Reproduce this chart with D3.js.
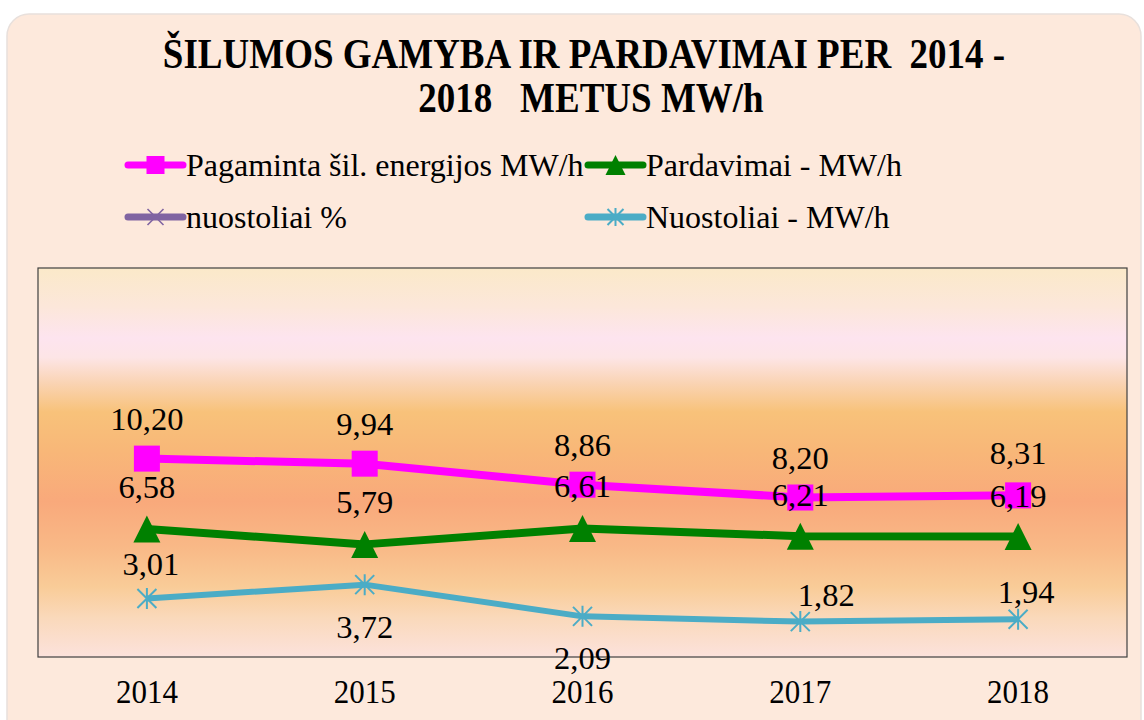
<!DOCTYPE html>
<html>
<head>
<meta charset="utf-8">
<script src="https://cdn.jsdelivr.net/npm/d3@7/dist/d3.min.js"></script>
<style>
  html, body { margin: 0; padding: 0; background: #ffffff; }
  svg { display: block; }
  text { font-family: "Liberation Serif", "Times New Roman", serif; fill: #000; white-space: pre; }
</style>
</head>
<body>
<svg id="chart" width="1144" height="720"></svg>
<script>
// ---- data ----
const categories = ["2014", "2015", "2016", "2017", "2018"];
const pagaminta  = [10.20, 9.94, 8.86, 8.20, 8.31];
const pardavimai = [6.58, 5.79, 6.61, 6.21, 6.19];
const nuostoliai = [3.01, 3.72, 2.09, 1.82, 1.94];
const seriesNames = ["Pagaminta šil. energijos MW/h", "Pardavimai - MW/h", "nuostoliai %", "Nuostoliai - MW/h"];
const yDomain = [0, 20];
const titleLines = ["ŠILUMOS GAMYBA IR PARDAVIMAI PER  2014 -", "2018   METUS MW/h"];

// ---- styles / placement (not data) ----
const FONT = "'Liberation Serif', 'Times New Roman', serif";
const fmt = v => d3.format(".2f")(v).replace(".", ",");
const styles = [
  { color: "#ff00ff", width: 8, marker: "square" },
  { color: "#008000", width: 8, marker: "triangle" },
  { color: "#8064a2", width: 6, marker: "x" },
  { color: "#4bacc6", width: 6, marker: "star" }
];
const labelOffsets = {
  pag:  [[0,-40],[0,-40],[0,-40],[0,-40],[0,-42]],
  par:  [[0,-42],[0,-42],[0,-42],[0,-41],[0,-41]],
  nuo:  [[4,-34],[0,42],[0,42],[26,-27],[8,-27]]
};

const svg = d3.select("#chart");
const defs = svg.append("defs");
const grad = defs.append("linearGradient").attr("id", "plotGrad")
  .attr("x1", 0).attr("y1", 0).attr("x2", 0).attr("y2", 1);
[["0%","#fbe9c9"],["10%","#fce7da"],["18%","#fde4ef"],["23%","#fde5e6"],["29%","#fad5b8"],
 ["37%","#f8c27a"],["47%","#f8b778"],["60%","#f9a97b"],["72%","#f9b987"],["82%","#f9cc98"],
 ["90%","#fad9bb"],["100%","#fce2dc"]].forEach(s =>
  grad.append("stop").attr("offset", s[0]).attr("stop-color", s[1]));

// card
svg.append("rect").attr("x", 7).attr("y", 14).attr("width", 1134).attr("height", 740)
  .attr("rx", 22).attr("fill", "#fde9dc").attr("stroke", "#e8e0dc").attr("stroke-width", 1.5);

// title (slightly tall glyphs as in the reference)
titleLines.forEach((t, i) => {
  svg.append("text")
    .attr("transform", `translate(${i === 0 ? 584 : 591},${i === 0 ? 68 : 112}) scale(1,1.13)`)
    .attr("text-anchor", "middle")
    .style("font-family", FONT).style("font-size", "37px").style("font-weight", "bold").text(t);
});

// plot area
const plot = { left: 38, right: 1127, top: 268, bottom: 657 };
svg.append("rect").attr("x", plot.left).attr("y", plot.top)
  .attr("width", plot.right - plot.left).attr("height", plot.bottom - plot.top)
  .attr("fill", "url(#plotGrad)").attr("stroke", "#404040").attr("stroke-width", 1.2);

const x = d3.scaleBand().domain(categories).range([plot.left, plot.right]);
const y = d3.scaleLinear().domain(yDomain).range([plot.bottom, plot.top]);
const cx = c => x(c) + x.bandwidth() / 2;

// x axis labels
const xAxis = d3.axisBottom(x).tickSize(0).tickPadding(0);
const gx = svg.append("g").attr("transform", `translate(0,${plot.bottom})`).call(xAxis);
gx.select(".domain").remove();
gx.attr("font-family", null).attr("font-size", null);
gx.selectAll("text").attr("y", null).attr("dy", null)
  .attr("transform", "translate(0,46) scale(1,1.12)")
  .style("font-family", FONT).style("font-size", "31px").attr("fill", "#000");

function drawMarker(g, type, px, py, size, color) {
  const h = size / 2;
  if (type === "square") {
    g.append("rect").attr("x", px - h).attr("y", py - h).attr("width", size).attr("height", size).attr("fill", color);
  } else if (type === "triangle") {
    g.append("path").attr("d", `M${px},${py - h}L${px + h},${py + h}L${px - h},${py + h}Z`).attr("fill", color);
  } else if (type === "x") {
    g.append("path").attr("d", `M${px - h},${py - h}L${px + h},${py + h}M${px - h},${py + h}L${px + h},${py - h}`)
      .attr("stroke", color).attr("stroke-width", 1.6).attr("fill", "none");
  } else if (type === "star") {
    g.append("path").attr("d", `M${px - h},${py - h}L${px + h},${py + h}M${px - h},${py + h}L${px + h},${py - h}M${px},${py - h - 1}L${px},${py + h + 1}`)
      .attr("stroke", color).attr("stroke-width", 2).attr("fill", "none");
  }
}

const plotSeries = [
  { values: pagaminta, st: styles[0], size: 26, offs: labelOffsets.pag },
  { values: pardavimai, st: styles[1], size: 27, offs: labelOffsets.par },
  { values: nuostoliai, st: styles[3], size: 19, offs: labelOffsets.nuo }
];
const line = d3.line().x((d, i) => cx(categories[i])).y(d => y(d));
const gLines = svg.append("g");
plotSeries.forEach(s => {
  gLines.append("path").datum(s.values).attr("d", line).attr("fill", "none")
    .attr("stroke", s.st.color).attr("stroke-width", s.st.width).attr("stroke-linejoin", "round");
  s.values.forEach((v, i) => drawMarker(gLines, s.st.marker, cx(categories[i]), y(v), s.size, s.st.color));
});
const gLabels = svg.append("g");
plotSeries.forEach(s => {
  s.values.forEach((v, i) => {
    gLabels.append("text").attr("x", cx(categories[i]) + s.offs[i][0]).attr("y", y(v) + s.offs[i][1])
      .attr("text-anchor", "middle").attr("dominant-baseline", "central")
      .style("font-family", FONT).style("font-size", "32.5px").text(fmt(v));
  });
});

// legend
const legendPos = [[128, 165], [588, 165], [128, 217], [588, 217]];
const legendMarkerSize = [18, 20, 16, 16];
seriesNames.forEach((name, i) => {
  const [lx, ly] = legendPos[i];
  const g = svg.append("g");
  g.append("line").attr("x1", lx).attr("x2", lx + 55).attr("y1", ly).attr("y2", ly)
    .attr("stroke", styles[i].color).attr("stroke-width", 7).attr("stroke-linecap", "round");
  drawMarker(g, styles[i].marker, lx + 27.5, ly, legendMarkerSize[i], styles[i].color);
  g.append("text").attr("x", lx + 58).attr("y", ly).attr("dominant-baseline", "central")
    .style("font-family", FONT).style("font-size", "32px").text(name);
});
</script>
</body>
</html>
